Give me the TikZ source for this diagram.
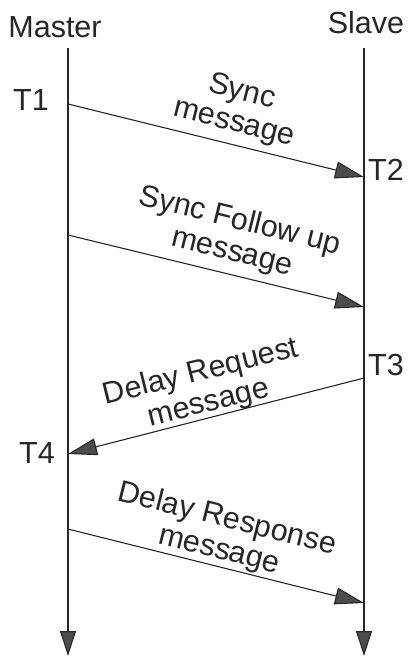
\documentclass[tikz,border=0pt]{standalone}
\usepackage{fontspec}
\setmainfont{Liberation Sans}
\usetikzlibrary{arrows.meta}
\begin{document}
\begin{tikzpicture}[x=1pt,y=-1pt,
  txt/.style={font=\fontsize{30.5}{32}\selectfont, text=black!85, inner sep=0pt},
  lbl/.style={txt, align=center},
  msg/.style={draw=black!85, line width=1.1pt, -{Triangle[length=29pt,width=17pt,fill=black!70]}},
  life/.style={draw=black!85, line width=1.1pt, -{Triangle[length=25pt,width=16pt,fill=black!70]}}]
\useasboundingbox (0,0) rectangle (408,657);
% lifelines
\coordinate (m0) at (68,48);
\coordinate (m1) at (68,656);
\coordinate (s0) at (364,48);
\coordinate (s1) at (364,656);
\draw[life] (m0) -- (m1);
\draw[life] (s0) -- (s1);
% titles
\node[txt] (master) at (55,27) {Master};
\node[txt] (slave) at (366,23) {Slave};
% time labels
\node[txt] (lt1) at (31,100) {T1};
\node[txt] (lt2) at (386,170) {T2};
\node[txt] (lt3) at (386,365) {T3};
\node[txt] (lt4) at (37,453) {T4};
% message end points
\coordinate (a1) at (68,104);
\coordinate (a2) at (364,177);
\coordinate (b1) at (68,235);
\coordinate (b2) at (364,307);
\coordinate (c1) at (364,378);
\coordinate (c2) at (68,454);
\coordinate (d1) at (68,529);
\coordinate (d2) at (364,603);
\draw[msg] (a1) -- (a2);
\draw[msg] (b1) -- (b2);
\draw[msg] (c1) -- (c2);
\draw[msg] (d1) -- (d2);
% message labels
\node[lbl, rotate=-14] (l1) at (238,108) {Sync\\message};
\node[lbl, rotate=-14] (l2) at (236,237) {Sync Follow up\\message};
\node[lbl, rotate=14] (l3) at (205,388) {Delay Request\\message};
\node[lbl, rotate=-14] (l4) at (223,535) {Delay Response\\message};
\end{tikzpicture}
\end{document}
